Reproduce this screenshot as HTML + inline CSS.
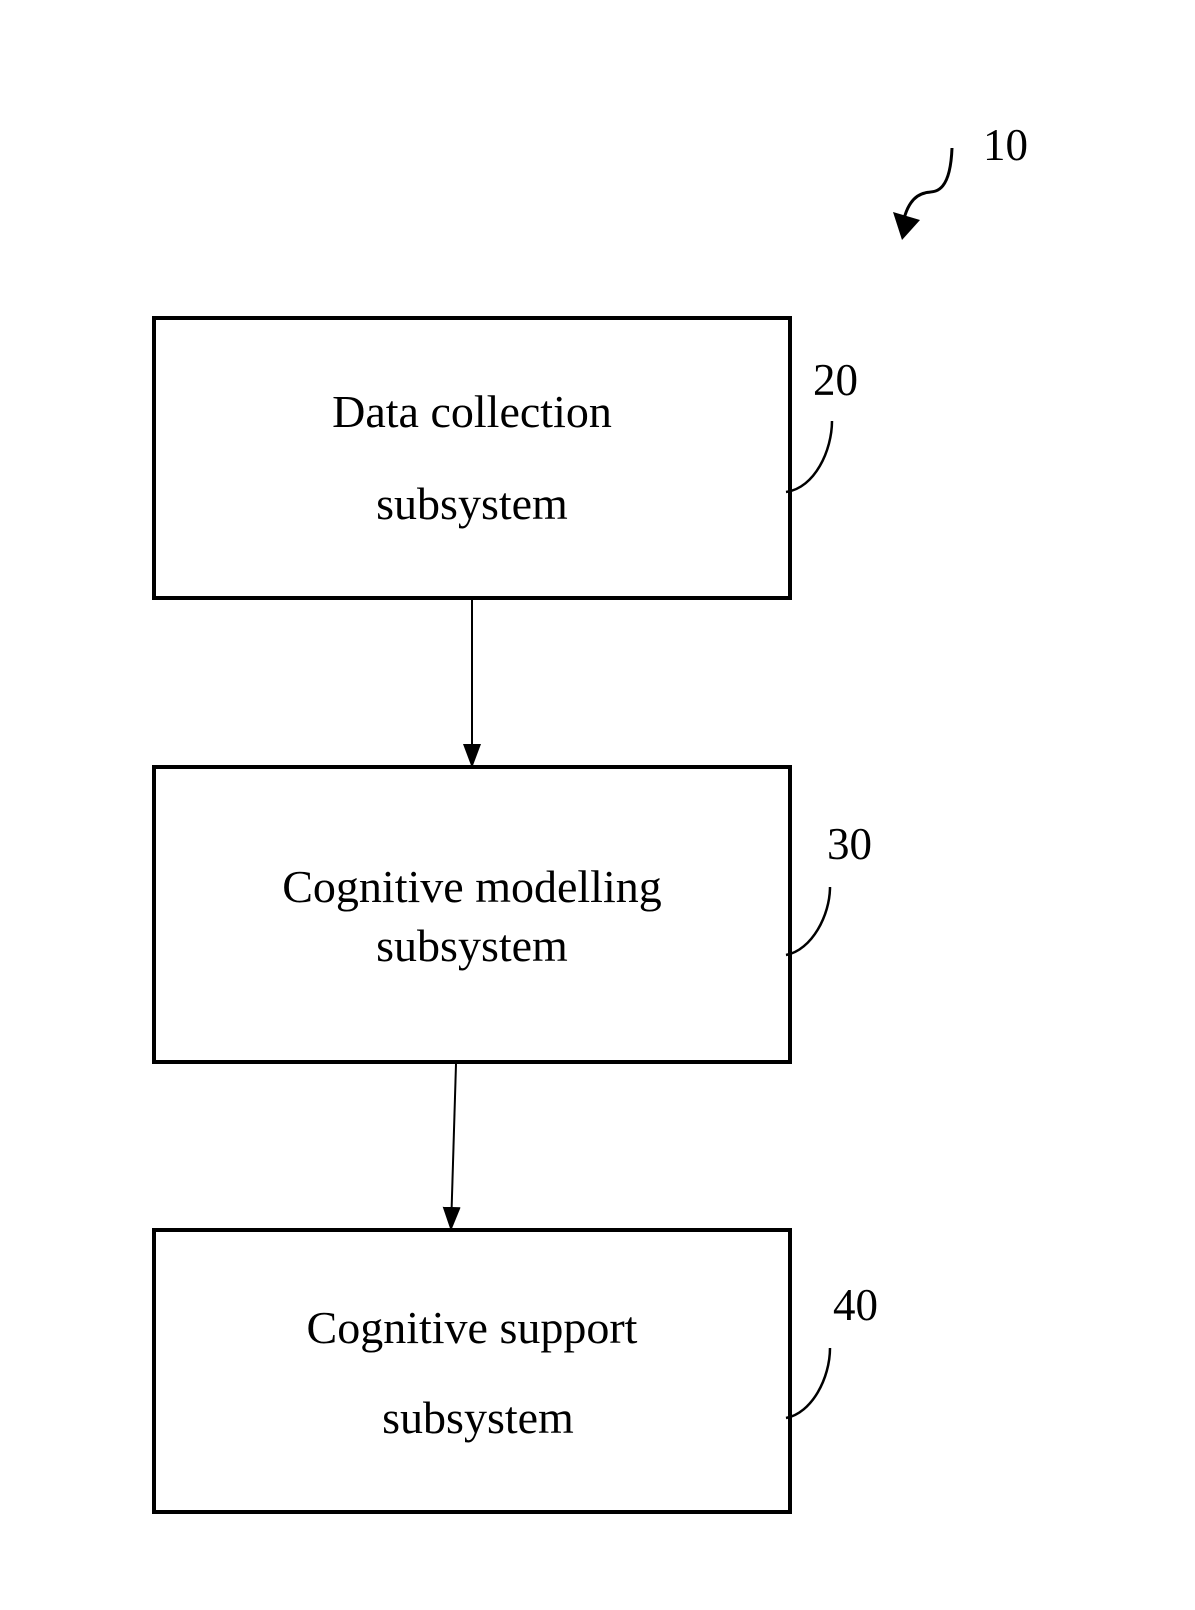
<!DOCTYPE html>
<html><head><style>body{margin:0;background:#fff}</style></head><body>
<svg width="1195" height="1605" xmlns="http://www.w3.org/2000/svg" font-family="Liberation Serif, serif" fill="none" stroke="#000">
<defs>
<marker id="b" markerWidth="24" markerHeight="24" refX="22" refY="12" orient="auto" markerUnits="userSpaceOnUse"><path d="M0,3 L24,12 L0,21z" fill="#000" stroke="none"/></marker></defs>
<rect x="154" y="318" width="636" height="280" stroke-width="4"/>
<rect x="154" y="767" width="636" height="295" stroke-width="4"/>
<rect x="154" y="1230" width="636" height="282" stroke-width="4"/>
<line x1="472" y1="600" x2="472" y2="766" stroke-width="2" marker-end="url(#b)"/>
<line x1="456" y1="1064" x2="451" y2="1229" stroke-width="2" marker-end="url(#b)"/>
<path d="M952,148 C950,200 930,190 925,193 C915,195 905,205 902,230" stroke-width="3"/>
<path d="M893,212 L920,220 L902,240z" fill="#000" stroke="none"/>
<path d="M832,421 C832,450 815,488 786,492" stroke-width="2.5"/>
<path d="M830,887 C830,915 812,950 786,955" stroke-width="2.5"/>
<path d="M830,1348 C830,1378 812,1413 786,1418" stroke-width="2.5"/>
<g fill="#000" stroke="none" font-size="46" text-anchor="middle">
<text x="472" y="427">Data collection</text>
<text x="472" y="519">subsystem</text>
<text x="472" y="902">Cognitive modelling</text>
<text x="472" y="961">subsystem</text>
<text x="472" y="1343">Cognitive support</text>
<text x="478" y="1433">subsystem</text>
</g>
<g fill="#000" stroke="none" font-size="45">
<text x="983" y="160">10</text>
<text x="813" y="395">20</text>
<text x="827" y="859">30</text>
<text x="833" y="1320">40</text>
</g>
</svg>
</body></html>
